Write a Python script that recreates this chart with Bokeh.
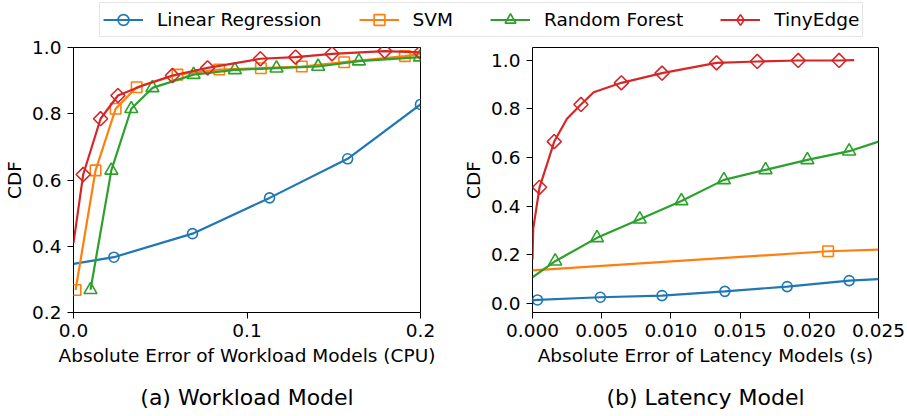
import numpy as np
from bokeh.plotting import figure
from bokeh.layouts import column, row
from bokeh.models import (Range1d, FixedTicker, NumeralTickFormatter, Legend,
                          LegendItem, Label)
from bokeh.embed import file_html
from bokeh.resources import INLINE

# ---------------- data ----------------
series_names = ["Linear Regression", "SVM", "Random Forest", "TinyEdge"]
colors = ["#1f77b4", "#ff7f0e", "#2ca02c", "#d62728"]

# (a) workload model: line points and marker points
wl_lr_x = [0.0, 0.0233, 0.0686, 0.113, 0.158, 0.2]
wl_lr_y = [0.347, 0.367, 0.438, 0.546, 0.664, 0.828]
wl_lr_mx = [0.0233, 0.0686, 0.113, 0.158, 0.2]
wl_lr_my = [0.367, 0.438, 0.546, 0.664, 0.828]

wl_svm_x = [0.0012, 0.0127, 0.0243, 0.0364, 0.0599, 0.084, 0.108, 0.1316, 0.156, 0.191, 0.2]
wl_svm_y = [0.268, 0.629, 0.815, 0.880, 0.918, 0.9335, 0.9375, 0.9426, 0.9556, 0.974, 0.98]
wl_svm_mx = [0.0012, 0.0127, 0.0243, 0.0364, 0.0599, 0.084, 0.108, 0.1316, 0.156, 0.191]
wl_svm_my = [0.268, 0.629, 0.815, 0.880, 0.918, 0.9335, 0.9375, 0.9426, 0.9556, 0.974]

wl_rf_x = [0.0098, 0.0218, 0.0333, 0.0455, 0.0692, 0.093, 0.117, 0.141, 0.1645, 0.1997]
wl_rf_y = [0.2685, 0.629, 0.815, 0.878, 0.918, 0.9325, 0.9375, 0.9426, 0.959, 0.971]
wl_rf_mx = wl_rf_x
wl_rf_my = wl_rf_y

wl_te_x = [0.0, 0.0056, 0.0156, 0.0256, 0.0407, 0.057, 0.0773, 0.1077, 0.128, 0.149, 0.1794, 0.2]
wl_te_y = [0.41, 0.6166, 0.785, 0.855, 0.887, 0.9155, 0.9385, 0.966, 0.971, 0.981, 0.989, 0.985]
wl_te_mx = [0.0056, 0.0156, 0.0256, 0.057, 0.0773, 0.1077, 0.128, 0.149, 0.1794, 0.2]
wl_te_my = [0.6166, 0.785, 0.855, 0.9155, 0.9385, 0.966, 0.971, 0.981, 0.989, 0.985]

# (b) latency model
lt_lr_x = [0.0, 0.00036, 0.0049, 0.00936, 0.0139, 0.0184, 0.02288, 0.025]
lt_lr_y = [0.012, 0.0137, 0.0247, 0.0316, 0.049, 0.0686, 0.0933, 0.099]
lt_lr_mx = [0.00036, 0.0049, 0.00936, 0.0139, 0.0184, 0.02288]
lt_lr_my = [0.0137, 0.0247, 0.0316, 0.049, 0.0686, 0.0933]

lt_svm_x = [0.0, 0.02136, 0.025]
lt_svm_y = [0.135, 0.214, 0.221]
lt_svm_mx = [0.02136]
lt_svm_my = [0.214]

lt_rf_x = [0.0, 0.00164, 0.00466, 0.00775, 0.01076, 0.01383, 0.01684, 0.01986, 0.02288, 0.025]
lt_rf_y = [0.107, 0.173, 0.269, 0.3457, 0.421, 0.5075, 0.5487, 0.5898, 0.6255, 0.665]
lt_rf_mx = [0.00164, 0.00466, 0.00775, 0.01076, 0.01383, 0.01684, 0.01986, 0.02288]
lt_rf_my = [0.173, 0.269, 0.3457, 0.421, 0.5075, 0.5487, 0.5898, 0.6255]

lt_te_x = [0.0, 0.00005, 0.00051, 0.00157, 0.00249, 0.0035, 0.00442, 0.00642, 0.00936,
           0.0133, 0.01624, 0.0192, 0.02215, 0.02324]
lt_te_y = [0.18, 0.306, 0.477, 0.665, 0.7586, 0.8176, 0.868, 0.9067, 0.9465,
           0.989, 0.9945, 0.9986, 0.9986, 1.0]
lt_te_mx = [0.00051, 0.00157, 0.0035, 0.00642, 0.00936, 0.0133, 0.01624, 0.0192, 0.02215]
lt_te_my = [0.477, 0.665, 0.8176, 0.9067, 0.9465, 0.989, 0.9945, 0.9986, 0.9986]

wl_xticks = [0.0, 0.1, 0.2]
wl_yticks = [0.2, 0.4, 0.6, 0.8, 1.0]
lt_xticks = [0.0, 0.005, 0.01, 0.015, 0.02, 0.025]
lt_yticks = [0.0, 0.2, 0.4, 0.6, 0.8, 1.0]

captions = ["(a) Workload Model", "(b) Latency Model"]

# ---------------- styling ----------------
FONT = "DejaVu Sans"
FS = "18.5px"
markers = [dict(marker="circle", size=10, angle=0.0),
           dict(marker="square", size=10.5, angle=0.0),
           dict(marker="triangle", size=13, angle=0.0),
           dict(marker="square", size=10, angle=np.pi / 4)]
legend_markers = ["circle", "square", "triangle", "diamond"]


def style(p, xticks, yticks, xfmt, yfmt, xlabel):
    p.xgrid.visible = False
    p.ygrid.visible = False
    p.outline_line_color = "black"
    p.outline_line_width = 1
    p.background_fill_color = "white"
    p.border_fill_color = "white"
    for ax in (p.xaxis[0], p.yaxis[0]):
        ax.axis_line_color = None
        ax.major_tick_line_color = "black"
        ax.major_tick_line_width = 1
        ax.major_tick_out = 6
        ax.major_tick_in = 0
        ax.minor_tick_line_color = None
        ax.major_label_text_font = FONT
        ax.major_label_text_font_size = FS
        ax.major_label_text_color = "black"
        ax.axis_label_text_font = FONT
        ax.axis_label_text_font_size = FS
        ax.axis_label_text_font_style = "normal"
        ax.axis_label_text_color = "black"
    p.xaxis[0].ticker = FixedTicker(ticks=xticks)
    p.yaxis[0].ticker = FixedTicker(ticks=yticks)
    p.xaxis[0].formatter = NumeralTickFormatter(format=xfmt)
    p.yaxis[0].formatter = NumeralTickFormatter(format=yfmt)
    p.xaxis[0].major_label_standoff = 5
    p.yaxis[0].major_label_standoff = 6
    p.xaxis[0].axis_label_standoff = 5
    p.yaxis[0].axis_label_standoff = 4
    p.xaxis[0].axis_label = xlabel
    p.yaxis[0].axis_label = "CDF"


def draw(p, lines, marks):
    for i, ((lx, ly), (mx, my)) in enumerate(zip(lines, marks)):
        p.line(lx, ly, line_color=colors[i], line_width=2.2)
        m = markers[i]
        p.scatter(mx, my, marker=m["marker"], size=m["size"], angle=m["angle"],
                  fill_color=None, line_color=colors[i], line_width=1.6)


FIG_H = 334
wl_lines = [(wl_lr_x, wl_lr_y), (wl_svm_x, wl_svm_y), (wl_rf_x, wl_rf_y), (wl_te_x, wl_te_y)]
wl_marks = [(wl_lr_mx, wl_lr_my), (wl_svm_mx, wl_svm_my), (wl_rf_mx, wl_rf_my), (wl_te_mx, wl_te_my)]

pa = figure(width=460, height=FIG_H, output_backend="svg", toolbar_location=None,
            x_range=Range1d(0.0, 0.2), y_range=Range1d(0.2, 1.0),
            min_border_left=73, min_border_right=40, min_border_top=9,
            min_border_bottom=60)
style(pa, wl_xticks, wl_yticks, "0.0", "0.0", "Absolute Error of Workload Models (CPU)")
draw(pa, wl_lines, wl_marks)

pb = figure(width=447, height=FIG_H, output_backend="svg", toolbar_location=None,
            x_range=Range1d(0.0, 0.025), y_range=Range1d(-0.038, 1.052),
            min_border_left=72, min_border_right=29, min_border_top=9,
            min_border_bottom=60)
style(pb, lt_xticks, lt_yticks, "0.000", "0.0", "Absolute Error of Latency Models (s)")
draw(pb,
     [(lt_lr_x, lt_lr_y), (lt_svm_x, lt_svm_y), (lt_rf_x, lt_rf_y), (lt_te_x, lt_te_y)],
     [(lt_lr_mx, lt_lr_my), (lt_svm_mx, lt_svm_my), (lt_rf_mx, lt_rf_my), (lt_te_mx, lt_te_my)])


def bare_strip(w, h):
    s = figure(width=w, height=h, output_backend="svg", toolbar_location=None,
               x_range=Range1d(10, 11), y_range=Range1d(10, 11),
               x_axis_location=None, y_axis_location=None, min_border=0)
    s.xgrid.visible = False
    s.ygrid.visible = False
    s.outline_line_color = None
    return s


# ---------------- caption strip ----------------
pc = bare_strip(907, 44)
for cx, text in zip((246.5, 705), captions):
    pc.add_layout(Label(x=cx, y=19.5, x_units="screen", y_units="screen",
                        text=text, text_align="center", text_baseline="alphabetic",
                        text_font=FONT, text_font_size="22px", text_color="black"))

# ---------------- legend strip ----------------
# the legend strip reuses the series data, but its ranges keep the marks out of view
pl = bare_strip(907, 38)
items = []
for i, name in enumerate(series_names):
    (lx, ly), (mx, my) = wl_lines[i], wl_marks[i]
    lr = pl.line(x=lx, y=ly, line_color=colors[i], line_width=2.2)
    sr = pl.scatter(x=mx, y=my, marker=legend_markers[i], size=10,
                    fill_color=None, line_color=colors[i], line_width=1.6)
    items.append(LegendItem(label=name, renderers=[lr, sr]))
legend = Legend(items=items, orientation="horizontal", location=(99, 1),
                glyph_width=40, glyph_height=27, label_height=27,
                label_standoff=14, spacing=37, padding=3, margin=0,
                label_text_font=FONT, label_text_font_size=FS, label_text_color="black",
                border_line_color="#cccccc", border_line_width=1,
                background_fill_color="white", background_fill_alpha=1.0)
pl.add_layout(legend)

layout = column(pl, row(pa, pb, spacing=0), pc, spacing=0)

open("out.html", "w").write(file_html(layout, INLINE))
